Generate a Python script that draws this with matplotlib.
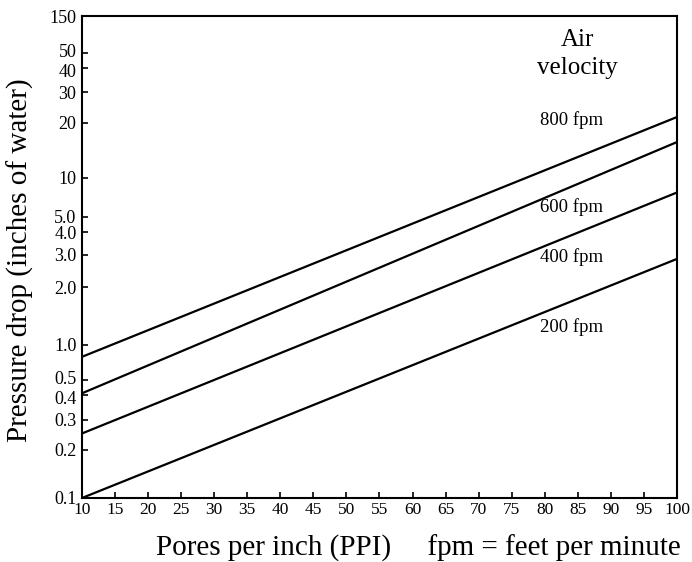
import matplotlib.pyplot as plt
import matplotlib.transforms as mtransforms
import numpy as np
from matplotlib.ticker import FixedFormatter, FixedLocator, NullLocator

# Data: pressure drop at 10 and 100 PPI for each air velocity.
ppi = [10, 100]
velocity_labels = ["800 fpm", "600 fpm", "400 fpm", "200 fpm"]
pressure_800 = [0.79, 21.6]
pressure_600 = [0.41, 15.7]
pressure_400 = [0.25, 7.7]
pressure_200 = [0.10, 2.85]

x_ticks = list(range(10, 101, 5))
y_ticks = [0.1, 0.2, 0.3, 0.4, 0.5, 1, 2, 3, 4, 5, 10, 20, 30, 40, 50, 150]
y_tick_labels = ["0.1", "0.2", "0.3", "0.4", "0.5", "1.0", "2.0", "3.0",
                 "4.0", "5.0", "10", "20", "30", "40", "50", "150"]

# The printed log axis is hand drawn and not evenly spaced, so calibrate the
# scale on where each tick sits (fraction of the axis height).
y_tick_frac = [0.0, 0.0997, 0.162, 0.214, 0.245, 0.318, 0.438, 0.505,
               0.552, 0.584, 0.665, 0.779, 0.843, 0.893, 0.924, 1.0]
_log_anchor = np.log10(y_ticks)


def _forward(y):
    y = np.clip(np.asarray(y, dtype=float), 1e-6, None)
    return np.interp(np.log10(y), _log_anchor, y_tick_frac,
                     left=-1.0, right=2.0)


def _inverse(f):
    return 10 ** np.interp(np.asarray(f, dtype=float), y_tick_frac, _log_anchor)


plt.rcParams["font.family"] = ["Liberation Serif", "DejaVu Serif"]

fig = plt.figure(figsize=(6.92, 5.62), dpi=100)
ax = fig.add_axes([0.1185, 0.1139, 0.8598, 0.8568])
ax.set_yscale("function", functions=(_forward, _inverse))

for series in (pressure_800, pressure_600, pressure_400, pressure_200):
    ax.plot(ppi, series, color="black", linewidth=1.6, solid_capstyle="butt")

ax.set_xlim(10, 100)
ax.set_ylim(0.1, 150)

ax.xaxis.set_major_locator(FixedLocator(x_ticks))
ax.xaxis.set_minor_locator(NullLocator())
ax.yaxis.set_major_locator(FixedLocator(y_ticks))
ax.yaxis.set_major_formatter(FixedFormatter(y_tick_labels))
ax.yaxis.set_minor_locator(NullLocator())

ax.tick_params(axis="both", direction="in", length=4, width=1.2, color="black")
ax.tick_params(axis="x", labelsize=12.5, pad=3)
ax.tick_params(axis="y", labelsize=13, pad=4)
for spine in ax.spines.values():
    spine.set_linewidth(1.5)

ax.set_ylabel("Pressure drop (inches of water)", fontsize=21, va="center")
ax.yaxis.set_label_coords(-0.104, 0.494)
ax.set_xlabel("Pores per inch (PPI)     fpm = feet per minute",
              fontsize=21, va="center")
ax.xaxis.set_label_coords(0.566, -0.104)

# Legend-style annotations at the right (x in data, y in axes fraction).
trans = ax.get_xaxis_transform()
ax.text(85, 0.951, "Air", transform=trans, ha="center", va="center", fontsize=18)
ax.text(85, 0.893, "velocity", transform=trans, ha="center", va="center", fontsize=18)
for label, yf in zip(velocity_labels, [0.785, 0.604, 0.5, 0.355]):
    ax.text(84, yf, label, transform=trans, ha="center", va="center",
            fontsize=13.5)

# Pull apart the crowded tick labels (50/40 and 0.5/0.4) like the print does.
nudge = {"50": 3, "40": -3, "0.5": 3, "0.4": -3}
for tick, text in zip(ax.yaxis.get_major_ticks(), y_tick_labels):
    if text in nudge:
        shift = mtransforms.ScaledTranslation(0, nudge[text] / 100, fig.dpi_scale_trans)
        tick.label1.set_transform(tick.label1.get_transform() + shift)

fig.savefig("out.png", dpi=100)
plt.close(fig)
